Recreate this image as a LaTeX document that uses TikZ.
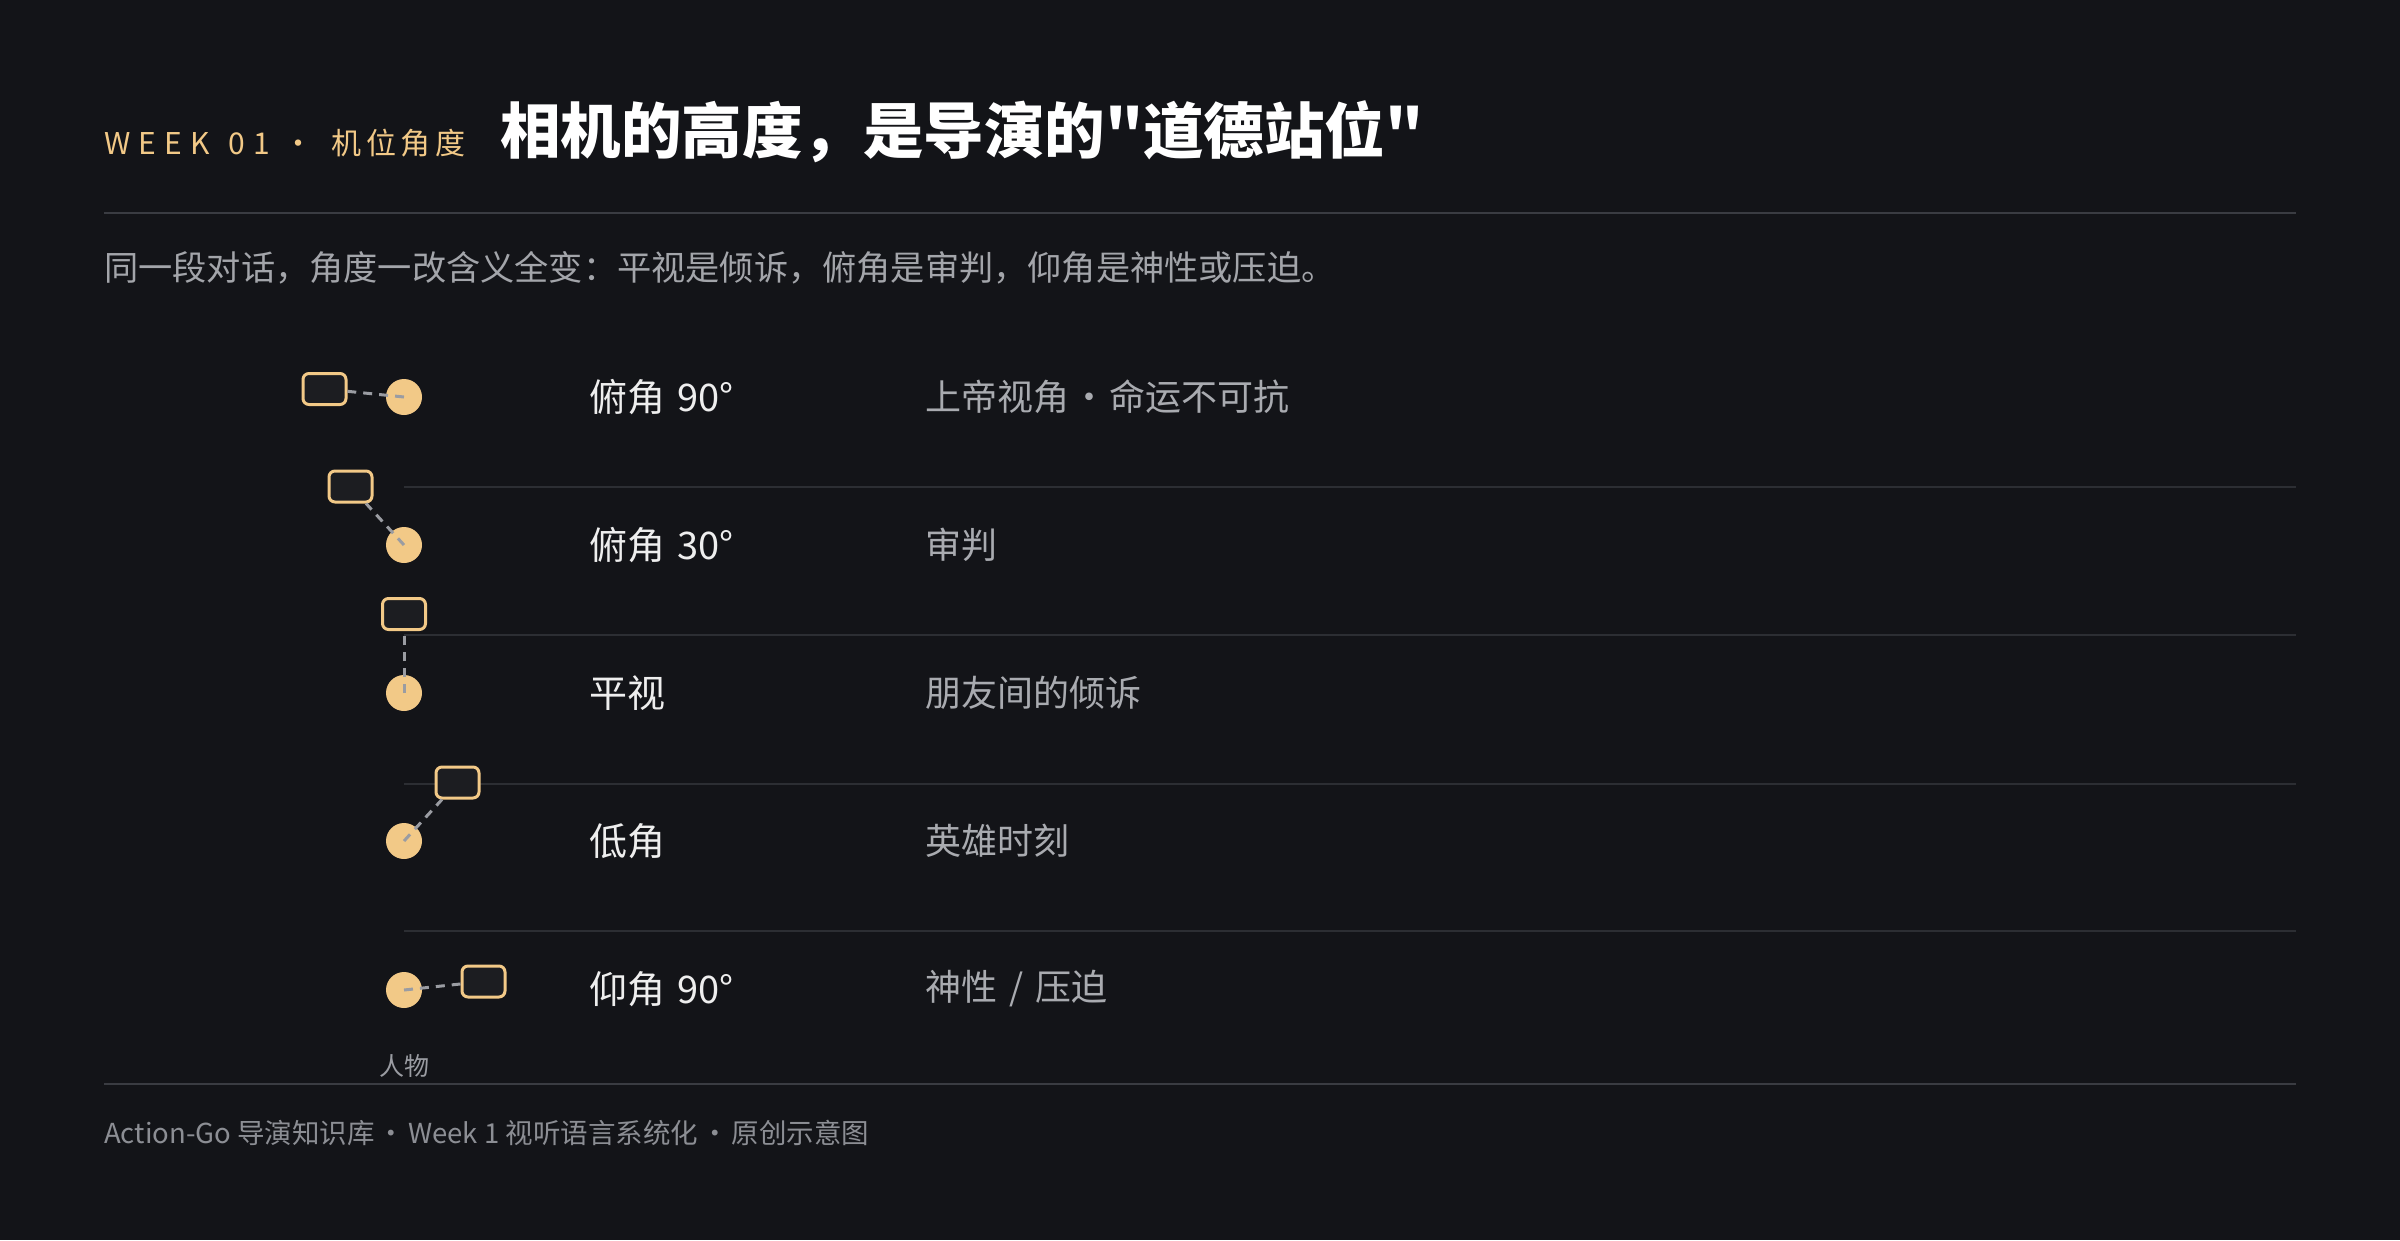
\documentclass[tikz,border=0pt]{standalone}
\usepackage{fontspec}
\setmainfont{Noto Sans CJK SC}
\newfontfamily\spaced[LetterSpace=15]{Noto Sans CJK SC}
\newfontfamily\wspaced[LetterSpace=27]{Noto Sans CJK SC}
\newfontfamily\titlefont[Ligatures=TeXOff]{Noto Sans CJK SC}
\definecolor{bg}{HTML}{131418}
\definecolor{gold}{HTML}{F2C987}
\definecolor{boxfill}{HTML}{1C1D21}
\definecolor{rule}{HTML}{3A3C42}
\definecolor{divider}{HTML}{2C2E33}
\definecolor{dashgray}{HTML}{9A9CA2}
\definecolor{labelwhite}{HTML}{EEEEEE}
\definecolor{descgray}{HTML}{A9ABB0}
\definecolor{subgray}{HTML}{A3A5AA}
\definecolor{footgray}{HTML}{8C8E94}
\tikzset{
  person/.style={circle, fill=gold, minimum size=36pt, inner sep=0pt},
  camera/.style={rectangle, draw=gold, line width=3pt, fill=boxfill, rounded corners=6pt, minimum width=43pt, minimum height=31pt, inner sep=0pt},
  sight/.style={draw=dashgray, line width=3pt, dash pattern=on 9pt off 7pt},
  rowlabel/.style={anchor=west, inner sep=0pt, text=labelwhite, font=\fontsize{38}{44}\selectfont},
  rowdesc/.style={anchor=west, inner sep=0pt, text=descgray, font=\fontsize{36}{44}\selectfont},
  divline/.style={draw=divider, line width=1.5pt},
  ruleline/.style={draw=rule, line width=2pt}
}
\newcommand{\sdot}{\hspace{2pt}·\hspace{2pt}}
\newcommand{\fdot}{\hspace{3pt}·\hspace{3pt}}
\begin{document}
\begin{tikzpicture}[x=1pt,y=-1pt]
\fill[bg] (0,0) rectangle (2400,1240);
\useasboundingbox (0,0) rectangle (2400,1240);

% header
\node[anchor=west, inner sep=0pt, text=gold, font=\fontsize{30}{36}\selectfont] (kicker) at (104,143) {{\wspaced WEEK\hspace{4pt} 01}\hspace{14pt}{\spaced ·}\hspace{18pt}{\spaced 机位角度}};
\node[anchor=west, inner sep=0pt, text=white, font=\titlefont\bfseries\fontsize{60.5}{72}\selectfont] (title) at (500,132) {相机的高度，是导演的"道德站位"};
\coordinate (hl) at (104,213);
\coordinate (hr) at (2296,213);
\draw[ruleline] (hl) -- (hr);
\node[anchor=west, inner sep=0pt, text=subgray, font=\fontsize{34.2}{40}\selectfont] (sub) at (104,268) {同一段对话，角度一改含义全变：平视是倾诉，俯角是审判，仰角是神性或压迫。};

% row dividers
\foreach \yy/\nm in {487/d1,635/d2,784/d3,931/d4}{
  \coordinate (\nm l) at (404,\yy);
  \coordinate (\nm r) at (2296,\yy);
  \draw[divline] (\nm l) -- (\nm r);
}

% persons
\node[person] (p1) at (404,397) {};
\node[person] (p2) at (404,545) {};
\node[person] (p3) at (404,693) {};
\node[person] (p4) at (404,841) {};
\node[person] (p5) at (404,990) {};

% cameras
\node[camera] (c1) at (324.5,389) {};
\node[camera] (c2) at (350.5,486.5) {};
\node[camera] (c3) at (404,614) {};
\node[camera] (c4) at (457.5,782.5) {};
\node[camera] (c5) at (483.5,981.5) {};

% sight lines
\draw[sight] (p1.center) -- (c1);
\draw[sight] (p2.center) -- (c2);
\draw[sight] (p3.center) -- (c3);
\draw[sight] (p4.center) -- (c4);
\draw[sight] (p5.center) -- (c5);

% labels
\node[rowlabel] (l1) at (589,397) {俯角\hspace{4pt} 90°};
\node[rowlabel] (l2) at (589,545) {俯角\hspace{4pt} 30°};
\node[rowlabel] (l3) at (589,693) {平视};
\node[rowlabel] (l4) at (589,841) {低角};
\node[rowlabel] (l5) at (589,989) {仰角\hspace{4pt} 90°};

\node[rowdesc] (e1) at (925,397) {上帝视角\sdot 命运不可抗};
\node[rowdesc] (e2) at (925,545) {审判};
\node[rowdesc] (e3) at (925,693) {朋友间的倾诉};
\node[rowdesc] (e4) at (925,841) {英雄时刻};
\node[rowdesc] (e5) at (925,989) {神性\hspace{4pt} / \hspace{4pt}压迫};

\node[inner sep=0pt, text=dashgray, font=\fontsize{25}{30}\selectfont] (who) at (404,1066) {人物};

% footer
\coordinate (fl) at (104,1084);
\coordinate (fr) at (2296,1084);
\draw[ruleline] (fl) -- (fr);
\node[anchor=west, inner sep=0pt, text=footgray, font=\fontsize{27.5}{32}\selectfont] (foot) at (104,1133) {Action-Go 导演知识库\fdot Week 1 视听语言系统化\fdot 原创示意图};
\end{tikzpicture}
\end{document}
